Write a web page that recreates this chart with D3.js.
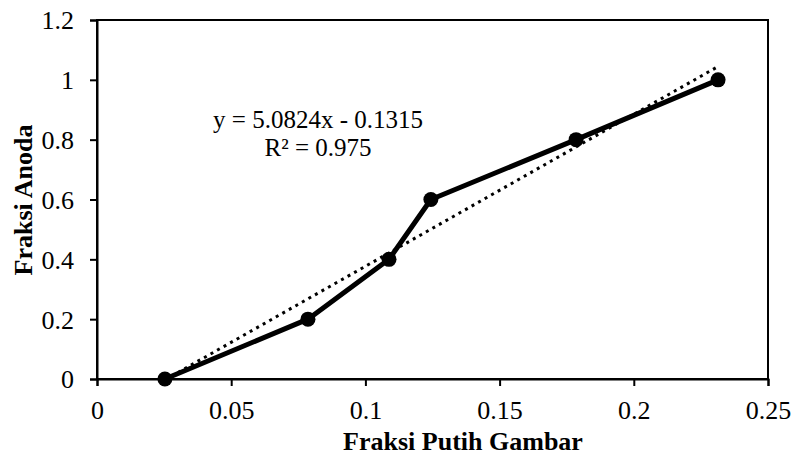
<!DOCTYPE html>
<html>
<head>
<meta charset="utf-8">
<script src="https://cdn.jsdelivr.net/npm/d3@7"></script>
<style>
  body { margin: 0; background: #fff; }
  text { font-family: "Liberation Serif", "Times New Roman", serif; fill: #000; }
</style>
</head>
<body>
<div id="chart"></div>
<script>
// data
var fraksiPutih = [0.0253, 0.0786, 0.1088, 0.1244, 0.1785, 0.2314];
var fraksiAnoda = [0, 0.2, 0.4, 0.6, 0.8, 1.0];
var xTicks = [0, 0.05, 0.1, 0.15, 0.2, 0.25];
var yTicks = [0, 0.2, 0.4, 0.6, 0.8, 1, 1.2];
var slope = 5.0824, intercept = -0.1315;
var eqLines = ["y = 5.0824x - 0.1315", "R\u00b2 = 0.975"];

var W = 793, H = 459;
var margin = {left: 97, right: 25, top: 20, bottom: 80};
var width = W - margin.left - margin.right,
    height = H - margin.top - margin.bottom;

var svg = d3.select("#chart").append("svg")
    .attr("width", W).attr("height", H);

var g = svg.append("g")
    .attr("transform", "translate(" + margin.left + "," + margin.top + ")");

var x = d3.scaleLinear().domain([0, 0.25]).range([0, width]);
var y = d3.scaleLinear().domain([0, 1.2]).range([height, 0]);

// frame
g.append("rect")
    .attr("width", width).attr("height", height)
    .attr("fill", "none").attr("stroke", "#000").attr("stroke-width", 2);

// axes
var xAxis = g.append("g")
    .attr("transform", "translate(0," + height + ")")
    .call(d3.axisBottom(x).tickValues(xTicks).tickSize(7).tickPadding(15)
        .tickFormat(function(d) { return d3.format("")(d); }));
var yAxis = g.append("g")
    .call(d3.axisLeft(y).tickValues(yTicks).tickSize(7).tickPadding(16)
        .tickFormat(function(d) { return d3.format("")(d); }));

[xAxis, yAxis].forEach(function(a) {
    a.select(".domain").attr("stroke", "#000").attr("stroke-width", 2);
    a.selectAll(".tick line").attr("stroke", "#000").attr("stroke-width", 2);
    a.selectAll(".tick text")
        .attr("font-family", "Liberation Serif")
        .attr("font-size", 26).attr("fill", "#000");
});
yAxis.selectAll(".tick text").attr("dy", "0.34em");

// trendline
var x0 = d3.min(fraksiPutih), x1 = d3.max(fraksiPutih);
g.append("line")
    .attr("x1", x(x0)).attr("y1", y(slope * x0 + intercept))
    .attr("x2", x(x1)).attr("y2", y(slope * x1 + intercept))
    .attr("stroke", "#000").attr("stroke-width", 3)
    .attr("stroke-dasharray", "3 4.5");

// data line
var pts = fraksiPutih.map(function(v, i) { return [v, fraksiAnoda[i]]; });
g.append("path")
    .datum(pts)
    .attr("fill", "none").attr("stroke", "#000").attr("stroke-width", 5)
    .attr("stroke-linejoin", "round")
    .attr("d", d3.line().x(function(d) { return x(d[0]); }).y(function(d) { return y(d[1]); }));

g.selectAll("circle.pt")
    .data(pts).enter().append("circle")
    .attr("class", "pt")
    .attr("cx", function(d) { return x(d[0]); })
    .attr("cy", function(d) { return y(d[1]); })
    .attr("r", 7.5).attr("fill", "#000");

// equation
svg.append("text")
    .attr("text-anchor", "middle").attr("font-size", 25)
    .selectAll("tspan").data(eqLines).enter().append("tspan")
    .attr("x", 318).attr("y", function(d, i) { return i ? 156 : 128; })
    .text(function(d) { return d; });

// axis titles
svg.append("text")
    .attr("x", 463).attr("y", 450)
    .attr("text-anchor", "middle").attr("font-weight", "bold").attr("font-size", 26)
    .text("Fraksi Putih Gambar");

svg.append("text")
    .attr("transform", "translate(32,200) rotate(-90)")
    .attr("text-anchor", "middle").attr("font-weight", "bold").attr("font-size", 26)
    .text("Fraksi Anoda");
</script>
</body>
</html>
